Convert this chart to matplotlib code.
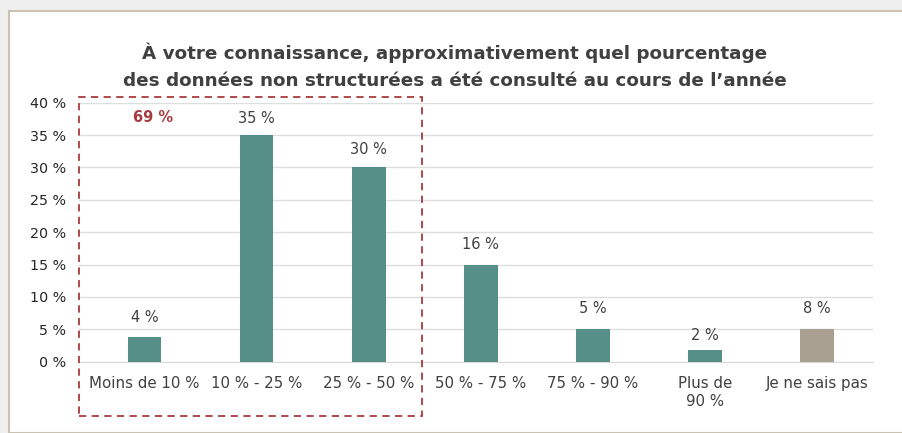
import matplotlib
matplotlib.use("Agg")
import matplotlib.pyplot as plt
from matplotlib.patches import Rectangle

categories = ["Moins de 10 %", "10 % - 25 %", "25 % - 50 %", "50 % - 75 %",
              "75 % - 90 %", "Plus de\n90 %", "Je ne sais pas"]
bar_heights = [3.8, 35, 30, 15, 5.1, 1.8, 5.1]
value_labels = ["4 %", "35 %", "30 %", "16 %", "5 %", "2 %", "8 %"]
yticks = [0, 5, 10, 15, 20, 25, 30, 35, 40]
ytick_labels = ["0 %", "5 %", "10 %", "15 %", "20 %", "25 %", "30 %", "35 %", "40 %"]
group_label = "69 %"
title = "À votre connaissance, approximativement quel pourcentage\ndes données non structurées a été consulté au cours de l\u2019année"

TEAL = "#558F87"
GREY = "#A9A091"
RED = "#A83A3F"
TXT = "#404040"

W, H = 903, 433
fig = plt.figure(figsize=(W / 100, H / 100), dpi=100)
fig.patch.set_facecolor("#EFEFEF")
plt.rcParams['font.family'] = ['DejaVu Sans']

# panel
fig.patches.append(Rectangle((9 / W, 0), 1, 1 - 11 / H, transform=fig.transFigure,
                             facecolor="white", edgecolor="#C9C1B2", linewidth=1.5, zorder=-10))

ax_l, ax_r, ax_t, ax_b = 79, 873, 102.7, 361.7
ax = fig.add_axes([ax_l / W, 1 - ax_b / H, (ax_r - ax_l) / W, (ax_b - ax_t) / H])
ax.set_zorder(1)
ax.set_facecolor("none")

x = list(range(len(categories)))
colors = [TEAL] * (len(categories) - 1) + [GREY]
bars = ax.bar(x, bar_heights, width=0.30, color=colors, zorder=3)
ax.set_ylim(0, 40)
ax.set_xlim(-0.585, 6.50)
ax.set_yticks(yticks)
ax.set_yticklabels(ytick_labels, fontsize=10.3, color="#262626")
ax.set_xticks(x)
ax.set_xticklabels(categories, fontsize=10.8, color=TXT, linespacing=1.25)
ax.tick_params(axis="both", length=0)
ax.tick_params(axis="y", pad=9)
ax.tick_params(axis="x", pad=10)
ax.yaxis.grid(True, color="#DEDEDE", linewidth=1, zorder=0)
ax.set_axisbelow(True)
for s in ["top", "right", "left"]:
    ax.spines[s].set_visible(False)
ax.spines["bottom"].set_color("#D9D9D9")

offsets = [20, 17, 18, 20, 20, 15, 20]
for i, (b, lab) in enumerate(zip(bars, value_labels)):
    ax.annotate(lab, (b.get_x() + b.get_width() / 2, b.get_height()),
                xytext=(0, offsets[i] * 0.72), textcoords="offset points",
                ha="center", va="center", fontsize=10.5, color=TXT)

fig.text(153 / W, 1 - 117 / H, group_label, ha="center", va="center",
         fontsize=10.5, color=RED, fontweight="bold")

fig.text(455 / W, 1 - 66.5 / H, title, ha="center", va="center", fontsize=13.2,
         fontweight="bold", color=TXT, linespacing=1.65)

# dashed group box
fig.patches.append(Rectangle((79 / W, 1 - 416 / H), (422 - 79) / W, (416 - 97) / H,
                             transform=fig.transFigure, fill=False, edgecolor=RED,
                             linewidth=1.3, linestyle=(0, (4, 3)), zorder=5))

fig.savefig("out.png", dpi=100, facecolor=fig.get_facecolor())
